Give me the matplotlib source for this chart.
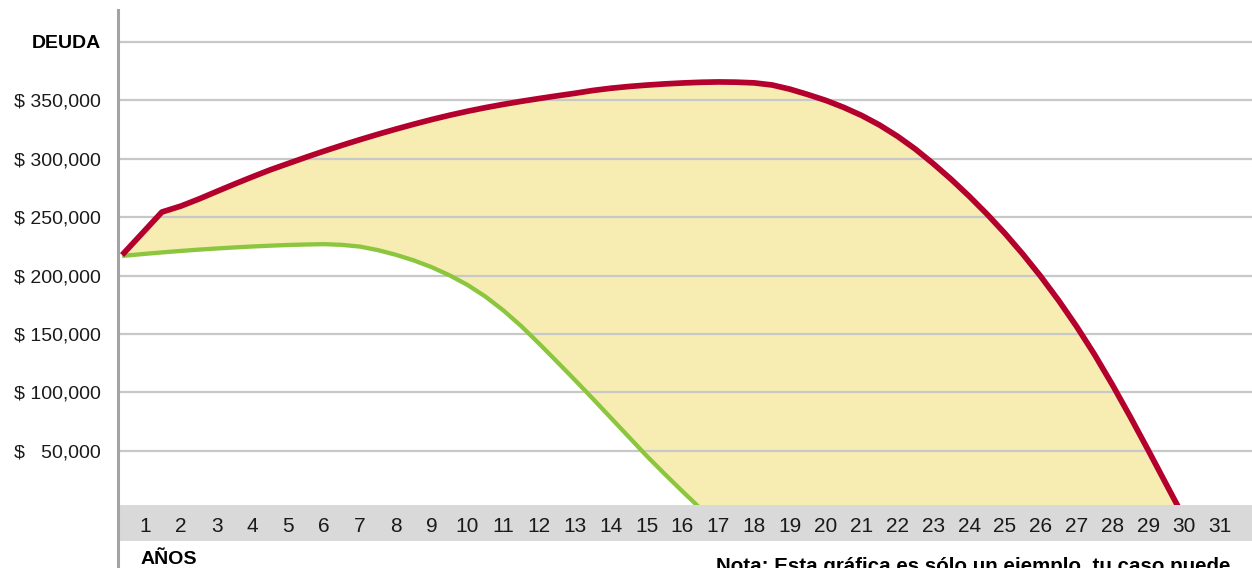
import matplotlib
matplotlib.use("Agg")
import matplotlib.pyplot as plt

plt.rcParams['font.family'] = ['Liberation Sans', 'DejaVu Sans']

# ---- data ----
years = list(range(1, 32))
y_ticks = [50000, 100000, 150000, 200000, 250000, 300000, 350000, 400000]
y_labels = [r"\$   50,000", r"\$ 100,000", r"\$ 150,000", r"\$ 200,000",
            r"\$ 250,000", r"\$ 300,000", r"\$ 350,000", "DEUDA"]

red_x = [0.36, 1.47, 2.0, 2.5, 3.0, 3.5, 4.0, 4.5, 5.0, 5.5, 6.0, 6.5, 7.0, 7.5,
         8.0, 8.5, 9.0, 9.5, 10.0, 10.5, 11.0, 11.5, 12.0, 12.5, 13.0, 13.5,
         14.0, 14.5, 15.0, 15.5, 16.0, 16.5, 17.0, 17.5, 18.0, 18.5, 19.0, 19.5,
         20.0, 20.5, 21.0, 21.5, 22.0, 22.5, 23.0, 23.5, 24.0, 24.5, 25.0, 25.5,
         26.0, 26.5, 27.0, 27.5, 28.0, 28.5, 29.0, 29.5, 29.87]
red_y = [217600, 254400, 259500, 265500, 272000, 278400, 284600, 290600, 296000,
         301400, 306600, 311600, 316400, 321000, 325400, 329600, 333600, 337300,
         340700, 343800, 346600, 349200, 351600, 353900, 356100, 358500, 360400,
         361900, 363100, 364100, 364900, 365500, 365800, 365600, 365000, 363200,
         359600, 355000, 350000, 344000, 337100, 328900, 319300, 308300, 295800,
         282400, 268000, 252600, 236100, 218300, 199200, 178600, 156400, 132400,
         106400, 78900, 50400, 21400, 0]

green_x = [0.36, 1.0, 1.5, 2.0, 2.5, 3.0, 3.5, 4.0, 4.5, 5.0, 5.5, 6.0, 6.5, 7.0,
           7.5, 8.0, 8.5, 9.0, 9.5, 10.0, 10.5, 11.0, 11.5, 12.0, 12.5, 13.0,
           13.5, 14.0, 14.5, 15.0, 15.5, 16.0, 16.52]
green_y = [216800, 218600, 219900, 221100, 222200, 223200, 224100, 224900, 225600,
           226200, 226600, 226900, 226300, 224800, 221800, 217800, 213000, 207200,
           200200, 192000, 182000, 170200, 156700, 141700, 126200, 110500, 94500,
           78200, 61900, 45600, 30200, 15200, 0]

# ---- figure ----
W, H = 1252, 568
fig = plt.figure(figsize=(W / 100, H / 100), dpi=100)
ax = fig.add_axes([118 / W, 0, 1 - 118 / W, 558 / H])
ax.set_xlim(0.2456, 31.895)
ax.set_ylim(-50400, 427400)

# fill polygon between red and green (green continues along zero)
poly_x = red_x + green_x[::-1]
poly_y = red_y + green_y[::-1]
ax.fill(poly_x, poly_y, color='#f7edb3', lw=0, zorder=1)

for v in y_ticks:
    ax.axhline(v, color='#c8c8c8', lw=1.6, zorder=2)

ax.plot(green_x, green_y, color='#8cc63f', lw=3.1, zorder=3,
        solid_capstyle='butt', solid_joinstyle='round')
ax.plot(red_x, red_y, color='#b3002d', lw=4.1, zorder=3.5,
        solid_capstyle='butt', solid_joinstyle='round')

# band for x labels
ax.axhspan(-27300, 3500, color='#d9d9d9', lw=0, zorder=4)
for yr in years:
    ax.text(yr, -19600, str(yr), ha='center', va='baseline', fontsize=15,
            color='#1a1a1a', zorder=6)

ax.set_xticks([])
ax.set_yticks(y_ticks)
ax.set_yticklabels(y_labels, fontsize=14, color='#1a1a1a')
ax.get_yticklabels()[-1].set_fontweight('bold')
ax.get_yticklabels()[-1].set_color('black')
ax.tick_params(axis='y', length=0, pad=12.2)

for s in ['top', 'right', 'bottom']:
    ax.spines[s].set_visible(False)
ax.spines['left'].set_color('#a3a3a3')
ax.spines['left'].set_linewidth(2.2)
ax.spines['left'].set_zorder(5)

fig.text(141 / W, 4 / H, "AÑOS", fontsize=14, fontweight='bold',
         ha='left', va='baseline', color='black')
fig.text(716 / W, (H - 572) / H, "Nota: Esta gráfica es sólo un ejemplo, tu caso puede",
         fontsize=14.8, fontweight='bold', ha='left', va='baseline', color='black')

fig.savefig("out.png", dpi=100)
